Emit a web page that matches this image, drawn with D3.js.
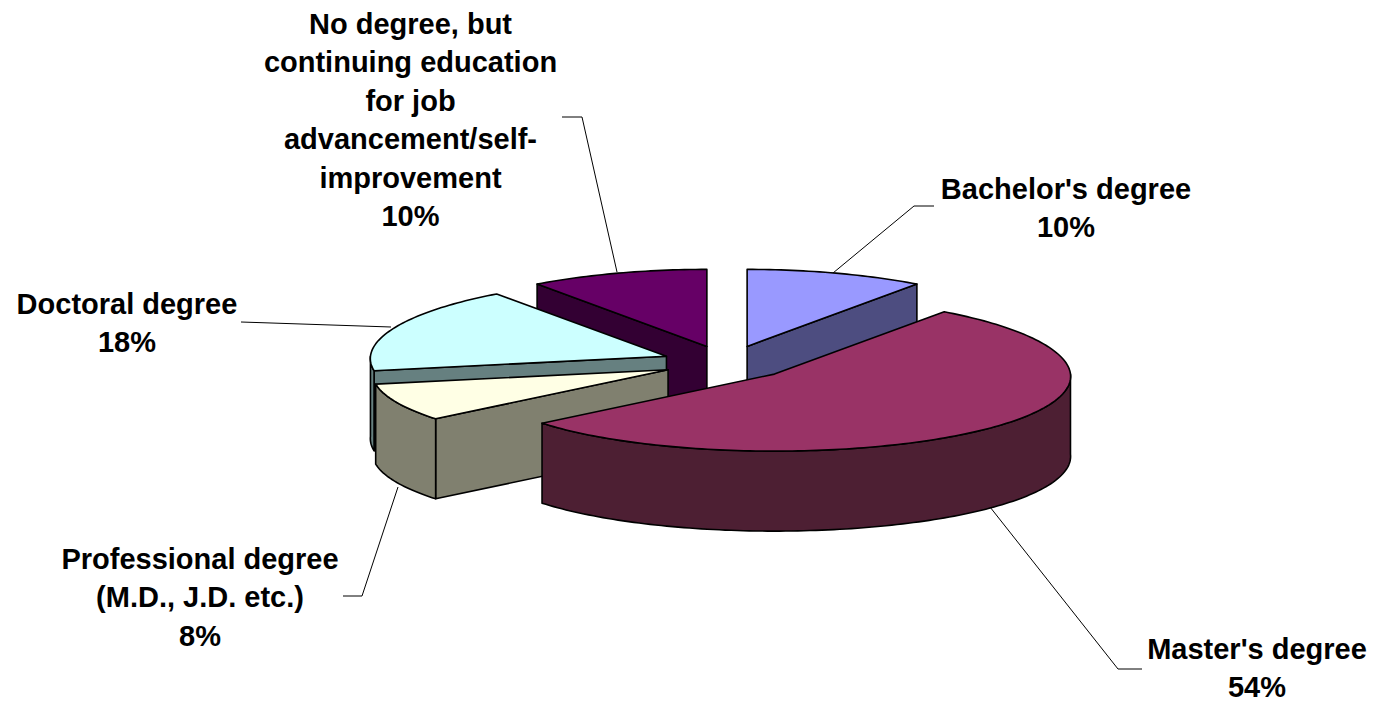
<!DOCTYPE html>
<html><head><meta charset="utf-8">
<style>html,body{margin:0;background:#fff}svg{display:block}text{font-family:"Liberation Sans",Arial,sans-serif;font-weight:700;font-size:29px;fill:#000}</style>
<script src="https://cdn.jsdelivr.net/npm/d3@7/dist/d3.min.js"></script></head><body>
<script>
const categories=["Bachelor's degree","Master's degree","Professional degree (M.D., J.D. etc.)","Doctoral degree","No degree, but continuing education for job advancement/self-improvement"];
const values=[10,54,8,18,10];
const topColors=["#9999FF","#993366","#FFFFE5","#CCFFFF","#660066"];
const wallColors=["#4D4D80","#4D1F33","#80806F","#668080","#330033"];
const labelLines=[["Bachelor's degree","10%"],["Master's degree","54%"],["Professional degree","(M.D., J.D. etc.)","8%"],["Doctoral degree","18%"],["No degree, but","continuing education","for job","advancement/self-","improvement","10%"]];
const labelAnchors=[[1066,199],[1257,659],[200,569],[127,314],[410.5,34]];
const leaders=[[[934,206],[914,206],[833,273]],[[1142,669],[1118,669],[990,507]],[[343,596],[362,596],[398,487]],[[241,322],[391,327]],[[562,117],[582,117],[617,272]]];
const paintOrder=[4,0,3,2,1];
const W=1376,H=702,cx=727,cy=362.5,rx=296,ry=77,depth=80,explode=0.22,lineH=38.4,persp=0.03;

const svg=d3.select("body").append("svg").attr("width",W).attr("height",H);
const arcs=d3.pie().sort(null)(values);
const sx=d3.scaleLinear().domain([-1,1]).range([cx-rx,cx+rx]);
const sy=d3.scaleLinear().domain([-1,1]).range([cy-ry,cy+ry]);
const pt=(a,r,o,dz=0)=>{
  const v=-r*Math.cos(a);
  return [sx(r*Math.sin(a)*(1+persp*v)+explode*Math.sin(o)),sy(v-explode*Math.cos(o))+dz];
};
const line=d3.line();
const rim=(a0,a1,o,dz=0)=>{const n=Math.max(2,Math.ceil((a1-a0)/0.02));return d3.range(n+1).map(i=>pt(a0+(a1-a0)*i/n,1,o,dz));};
const gPie=svg.append("g").attr("stroke","#000").attr("stroke-width",1.6).attr("stroke-linejoin","round");
paintOrder.forEach(i=>{
  const d=arcs[i],o=(d.startAngle+d.endAngle)/2,g=gPie.append("g");
  [[d.startAngle,-Math.PI/2],[d.endAngle,Math.PI/2]].forEach(([a,n])=>{
    if(Math.cos(a+n)<-1e-6){
      g.append("path").attr("fill",wallColors[i]).attr("d",line([pt(0,0,o),pt(a,1,o),pt(a,1,o,depth),pt(0,0,o,depth)])+"Z");
    }
  });
  const a0=Math.max(d.startAngle,Math.PI/2),a1=Math.min(d.endAngle,3*Math.PI/2);
  if(a1>a0){
    g.append("path").attr("fill",wallColors[i]).attr("d",line(rim(a0,a1,o).concat(rim(a0,a1,o,depth).reverse()))+"Z");
  }
  g.append("path").attr("fill",topColors[i]).attr("d",line([pt(0,0,o)].concat(rim(d.startAngle,d.endAngle,o)))+"Z");
});
svg.append("g").attr("fill","none").attr("stroke","#000").attr("stroke-width",1).selectAll("path").data(leaders).join("path").attr("d",d=>line(d));
const gl=svg.append("g").attr("text-anchor","middle");
labelLines.forEach((ls,i)=>{
  const t=gl.append("text").attr("aria-label",categories[i]);
  ls.forEach((s,j)=>t.append("tspan").attr("x",labelAnchors[i][0]).attr("y",labelAnchors[i][1]+j*lineH).text(s));
});
</script></body></html>
